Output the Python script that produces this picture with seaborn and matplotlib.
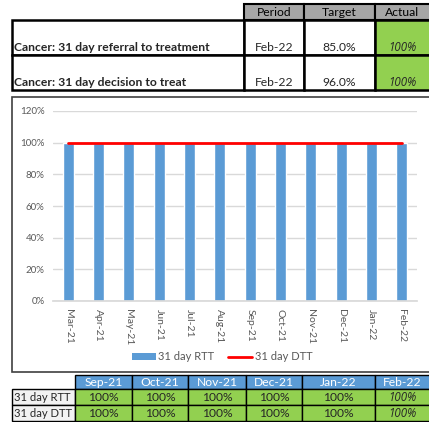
import numpy as np
import pandas as pd
import matplotlib
matplotlib.use("Agg")
import matplotlib.pyplot as plt
from matplotlib.patches import Rectangle
from matplotlib.lines import Line2D
import seaborn as sns

# ---- data ----
months = ["Mar-21", "Apr-21", "May-21", "Jun-21", "Jul-21", "Aug-21", "Sep-21",
          "Oct-21", "Nov-21", "Dec-21", "Jan-22", "Feb-22"]
rtt = [1.0] * 12
dtt = [1.0] * 12
yticks = [0, 0.2, 0.4, 0.6, 0.8, 1.0, 1.2]

top_headers = ["Period", "Target", "Actual"]
top_labels = ["Cancer: 31 day referral to treatment", "Cancer: 31 day decision to treat"]
top_period = ["Feb-22", "Feb-22"]
top_target = ["85.0%", "96.0%"]
top_actual = ["100%", "100%"]

bot_months = ["Sep-21", "Oct-21", "Nov-21", "Dec-21", "Jan-22", "Feb-22"]
bot_labels = ["31 day RTT", "31 day DTT"]
bot_rtt = ["100%", "100%", "100%", "100%", "100%", "100%"]
bot_dtt = ["100%", "100%", "100%", "100%", "100%", "100%"]

df = pd.DataFrame({"month": months, "rtt": rtt, "dtt": dtt})

sns.set_theme(style="white")
plt.rcParams["font.family"] = ["Lato", "DejaVu Sans"]
ITAL = ["Open Sans", "Liberation Sans", "DejaVu Sans"]

W, H = 429, 422
fig = plt.figure(figsize=(W / 100, H / 100), dpi=100)

BLUE = "#5B9BD5"
GREEN = "#92D050"
GREY = "#A6A6A6"
FS = 8.7
FI = 8.3

# overlay axes in pixel coords
ov = fig.add_axes([0, 0, 1, 1])
ov.set_xlim(0, W)
ov.set_ylim(H, 0)
ov.axis("off")

def cell(x0, y0, x1, y1, fc="white", ec="black", lw=1.0, z=1):
    ov.add_patch(Rectangle((x0, y0), x1 - x0, y1 - y0, facecolor=fc, edgecolor=ec, lw=lw, zorder=z))

# ---- top table ----
cols = [244, 304, 375, 431]
for i in range(3):
    cell(cols[i], 4, cols[i + 1], 20, fc=GREY, lw=1.5)
for i, h in enumerate(top_headers):
    ov.text((cols[i] + min(cols[i + 1], 429)) / 2, 12.5, h,
            ha="center", va="center", fontsize=FS, color="black", zorder=5)
rows = [20, 55, 90]
for r in range(2):
    y0, y1 = rows[r], rows[r + 1]
    cell(12, y0, cols[0], y1, lw=1.8)
    cell(cols[0], y0, cols[1], y1, lw=1.8)
    cell(cols[1], y0, cols[2], y1, lw=1.8)
    cell(cols[2], y0, cols[3], y1, fc=GREEN, lw=1.8)
    ty = y1 - 7.5
    ov.text(14, ty, top_labels[r], ha="left", va="center", fontsize=FS, fontweight="bold", zorder=5)
    ov.text((cols[0] + cols[1]) / 2, ty, top_period[r], ha="center", va="center", fontsize=FS, zorder=5)
    ov.text((cols[1] + cols[2]) / 2, ty, top_target[r], ha="center", va="center", fontsize=FS, zorder=5)
    ov.text((cols[2] + 429) / 2, ty, top_actual[r], ha="center", va="center", fontsize=FI,
            style="italic", family=ITAL, zorder=5)

# ---- chart box ----
cell(12, 97, 432, 372, fc="white", ec="#404040", lw=1.2, z=0)

# ---- bottom table ----
bcols = [12, 75, 132, 188, 246, 302, 375, 431]
hy = [375, 389, 405, 421]
for j, m in enumerate(bot_months):
    cell(bcols[j + 1], hy[0], bcols[j + 2], hy[1], fc=BLUE, lw=1.0)
    ov.text((bcols[j + 1] + min(bcols[j + 2], 429)) / 2, (hy[0] + hy[1]) / 2 + 0.5, m,
            ha="center", va="center", fontsize=FS, color="white", zorder=5)
for r, vals in enumerate([bot_rtt, bot_dtt]):
    y0, y1 = hy[r + 1], hy[r + 2]
    cell(bcols[0], y0, bcols[1], y1, fc="#F2F2F2", lw=1.0)
    ov.text(bcols[0] + 1.5, (y0 + y1) / 2 + 0.5, bot_labels[r], ha="left", va="center",
            fontsize=8.1, zorder=5)
    for j, v in enumerate(vals):
        cell(bcols[j + 1], y0, bcols[j + 2], y1, fc=GREEN, lw=1.0)
        last = j == len(vals) - 1
        ov.text((bcols[j + 1] + min(bcols[j + 2], 429)) / 2, (y0 + y1) / 2 + 0.5, v,
                ha="center", va="center", fontsize=FI if last else FS,
                style="italic" if last else "normal",
                family=ITAL if last else None, zorder=5)

# ---- chart ----
px0, px1, py_top, py_bot = 53, 417, 111, 301
ax = fig.add_axes([px0 / W, (H - py_bot) / H, (px1 - px0) / W, (py_bot - py_top) / H])
ax.set_facecolor("none")
sns.barplot(data=df, x="month", y="rtt", color=BLUE, width=0.37, saturation=1, ax=ax, zorder=2)
sns.lineplot(data=df, x="month", y="dtt", color="#FF0000", lw=2.0, ax=ax, zorder=3)
ax.set_ylim(0, 1.2)
ax.set_xlim(-0.5, len(months) - 0.5)
ax.set_yticks(yticks)
ax.set_yticklabels([f"{int(round(t * 100))}%" for t in yticks], fontsize=7, color="#595959")
ax.yaxis.grid(True, color="#D9D9D9", lw=1, zorder=0)
ax.set_axisbelow(True)
ax.tick_params(axis="x", labelrotation=270, labelsize=7.5, colors="#595959", length=0, pad=6)
ax.tick_params(axis="y", length=0, pad=6)
for lab in ax.get_xticklabels():
    lab.set_va("top")
    lab.set_ha("center")
for s in ["top", "right", "left"]:
    ax.spines[s].set_visible(False)
ax.spines["bottom"].set_color("#D9D9D9")
ax.set_xlabel("")
ax.set_ylabel("")

handles = [Rectangle((0, 0), 1, 1, facecolor=BLUE, edgecolor="none"),
           Line2D([0], [0], color="#FF0000", lw=2.0)]
fig.legend(handles, ["31 day RTT", "31 day DTT"], loc="center",
           bbox_to_anchor=(222 / W, (H - 357) / H), ncol=2, frameon=False,
           fontsize=8, labelcolor="#595959", handlelength=2.2, handleheight=0.55,
           columnspacing=1.2, handletextpad=0.2)

fig.savefig("out.png", dpi=100)
